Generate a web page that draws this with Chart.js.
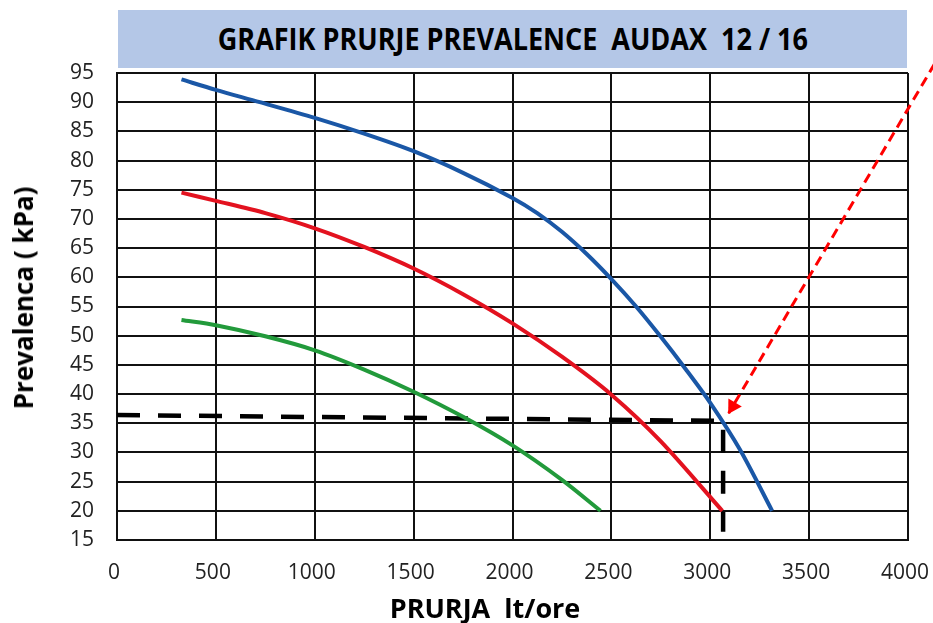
<!DOCTYPE html>
<html>
<head>
<meta charset="utf-8">
<script src="https://cdn.jsdelivr.net/npm/chart.js@4.4.1/dist/chart.umd.min.js"></script>
<style>
  html, body { margin: 0; padding: 0; background: #fff; }
  #wrap { position: relative; width: 933px; height: 623px; overflow: hidden; }
  #chart { position: absolute; left: 0; top: 0; }
  .lbl { position: absolute; font-family: "Open Sans", sans-serif; font-weight: 700; color: #000; white-space: nowrap; line-height: 1; }
  #title { left: 118px; top: 10px; width: 789px; height: 58px; background: #b4c7e7; display: flex; align-items: center; justify-content: center; }
  #title span { display: inline-block; font-size: 30px; transform: scaleX(0.9); }
  #ytitle { left: 23px; top: 298px; font-size: 26px; transform: translate(-50%, -50%) rotate(-90deg); }
  #xtitle { left: 485px; top: 607px; font-size: 27px; transform: translate(-50%, -50%); }
</style>
</head>
<body>
<div id="wrap">
  <canvas id="chart" width="933" height="623"></canvas>
  <div class="lbl" id="title"><span>GRAFIK PRURJE PREVALENCE&nbsp; AUDAX&nbsp; 12 / 16</span></div>
  <div class="lbl" id="ytitle">Prevalenca ( kPa)</div>
  <div class="lbl" id="xtitle">PRURJA&nbsp; lt/ore</div>
</div>
<script>
// flow (lt/ore) and head (kPa)
const blueFlow = [326, 500, 722, 1000, 1250, 1500, 1750, 2000, 2125, 2250, 2375, 2500, 2625, 2750, 2875, 3000, 3150, 3313];
const bluePressure = [93.9, 92.1, 90.0, 87.3, 84.6, 81.6, 77.9, 73.6, 71.0, 67.8, 64.0, 59.7, 55.0, 49.8, 44.3, 38.5, 30.5, 20];

const redFlow = [326, 500, 750, 1000, 1250, 1500, 1750, 2000, 2250, 2500, 2750, 3061];
const redPressure = [74.5, 73.1, 71.0, 68.4, 65.2, 61.5, 57.1, 52.1, 46.4, 39.9, 31.9, 20];

const greenFlow = [326, 500, 750, 1000, 1250, 1500, 1750, 2000, 2250, 2445];
const greenPressure = [52.7, 51.8, 49.9, 47.5, 44.2, 40.4, 36.1, 31.2, 25.3, 20];

// working point guide (dashed black) and the red pointer arrow
const guideFlow = [0, 3065, 3065];
const guidePressure = [36.4, 35.4, 16.4];

const arrowFlow = [4135, 3093];
const arrowPressure = [96.6, 36.7];
const arrowHeadFlow = [3114];
const arrowHeadPressure = [37.9];

const flowMin = 0, flowMax = 4000, flowStep = 500;
const pressureMin = 15, pressureMax = 95, pressureStep = 5;

function toPoints(xs, ys) {
    return xs.map((x, i) => ({ x: x, y: ys[i] }));
}

function curve(xs, ys, color) {
    return {
        data: toPoints(xs, ys),
        showLine: true,
        borderColor: color,
        borderWidth: 4,
        pointRadius: 0,
        tension: 0.3,
        borderCapStyle: "butt",
    };
}

const tickFont = { family: "'Open Sans', sans-serif", size: 21 };

new Chart(document.getElementById("chart"), {
    type: "scatter",
    data: {
        datasets: [
            curve(blueFlow, bluePressure, "#1a57a6"),
            curve(redFlow, redPressure, "#e3121f"),
            curve(greenFlow, greenPressure, "#229a3b"),
            {
                data: toPoints(guideFlow, guidePressure),
                showLine: true,
                borderColor: "#000",
                borderWidth: 4.5,
                borderDash: [23, 18],
                borderJoinStyle: "miter",
                pointRadius: 0,
                tension: 0,
            },
            {
                data: toPoints(arrowFlow, arrowPressure),
                showLine: true,
                borderColor: "#ff0000",
                borderWidth: 3,
                borderDash: [10, 6],
                pointRadius: 0,
                clip: false,
            },
            {
                data: toPoints(arrowHeadFlow, arrowHeadPressure),
                pointStyle: "triangle",
                pointRadius: 9,
                pointRotation: 210.6,
                backgroundColor: "#ff0000",
                borderWidth: 0,
                clip: false,
            },
        ],
    },
    options: {
        responsive: false,
        animation: false,
        layout: { padding: { top: 73, right: 25, left: 0, bottom: 0 } },
        plugins: {
            legend: { display: false },
            tooltip: { enabled: false },
        },
        scales: {
            x: {
                type: "linear",
                min: flowMin,
                max: flowMax,
                ticks: { stepSize: flowStep, font: tickFont, color: "#222", padding: 20, labelOffset: -3, callback: (v) => String(v) },
                grid: { color: "#111", lineWidth: 2, drawTicks: false },
                border: { color: "#111", width: 2 },
                afterFit: (scale) => {
                    scale.height = 83;
                    scale.paddingLeft = 0;
                    scale.paddingRight = 0;
                },
            },
            y: {
                min: pressureMin,
                max: pressureMax,
                ticks: { stepSize: pressureStep, font: tickFont, color: "#222", padding: 23, callback: (v) => String(v) },
                grid: { color: "#111", lineWidth: 2, drawTicks: false },
                border: { color: "#111", width: 2 },
                afterFit: (scale) => {
                    scale.width = 117;
                    scale.paddingTop = 0;
                    scale.paddingBottom = 0;
                },
            },
        },
    },
});
</script>
</body>
</html>
